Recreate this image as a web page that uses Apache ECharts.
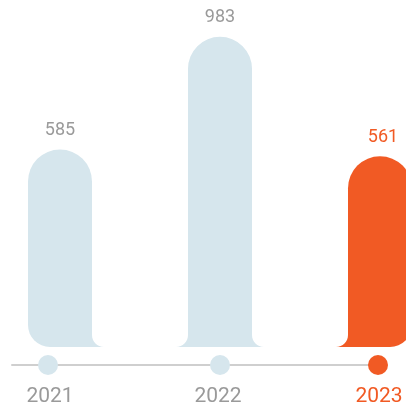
<!DOCTYPE html>
<html>
<head>
<meta charset="utf-8">
<script src="https://cdn.jsdelivr.net/npm/echarts@6/dist/echarts.min.js"></script>
<style>html,body{margin:0;padding:0;background:#fff}#c{width:406px;height:405px}</style>
</head>
<body>
<div id="c"></div>
<script>
const categories = ['2021', '2022', '2023'];
const values = [585, 983, 561];
const highlightIndex = 2;

const BLUE = '#d6e6ed';
const ORANGE = '#f15a24';
const GRAY_TEXT = '#9a9a9a';
const FONT = 'Roboto, "Liberation Sans", sans-serif';

const chart = echarts.init(document.getElementById('c'));
const n = values.length;
const K = 0.5523;

function colorOf(i) { return i === highlightIndex ? ORANGE : BLUE; }

function renderBar(params, api) {
  const i = params.dataIndex;
  const cat = api.value(0);
  const v = api.value(1);
  const p0 = api.coord([cat, 0]);
  const p1 = api.coord([cat, v]);
  const cx = p0[0], b = p0[1], top = p1[1];
  const w = 64, r = w / 2, f = 12, R = 22;
  const l = cx - r, rt = cx + r;
  const col = colorOf(i);
  const children = [{
    type: 'rect',
    shape: { x: l, y: top - r, width: w, height: b - (top - r), r: [r, r, i === n - 1 ? R : 0, i === 0 ? R : 0] },
    style: { fill: col }
  }];
  if (i > 0) {
    children.push({
      type: 'path',
      shape: { pathData: `M ${l} ${b - f} L ${l} ${b} L ${l - f} ${b} C ${l - f + K * f} ${b} ${l} ${b - f + K * f} ${l} ${b - f} Z` },
      style: { fill: col }
    });
  }
  if (i < n - 1) {
    children.push({
      type: 'path',
      shape: { pathData: `M ${rt} ${b - f} L ${rt} ${b} L ${rt + f} ${b} C ${rt + f - K * f} ${b} ${rt} ${b - f + K * f} ${rt} ${b - f} Z` },
      style: { fill: col }
    });
  }
  children.push({
    type: 'text',
    style: {
      text: String(v), x: cx + (i === highlightIndex ? 3 : 0), y: top - r - 10,
      align: 'center', verticalAlign: 'bottom',
      fill: i === highlightIndex ? ORANGE : GRAY_TEXT,
      font: '18px ' + FONT
    }
  });
  return { type: 'group', children };
}

const dotOffsets = [-12, 0, -2];
const labelNudge = [2, -2, 1];

chart.setOption({
  animation: false,
  grid: [
    { left: 60, right: 26, top: 64, bottom: 58 },
    { left: 60, right: 26, top: 355, bottom: 30 },
    { left: 12, right: 28, top: 355, bottom: 40 }
  ],
  xAxis: [
    { type: 'category', data: categories, gridIndex: 0, boundaryGap: false, show: false },
    { type: 'category', data: categories, gridIndex: 1, boundaryGap: false, show: false },
    { type: 'value', gridIndex: 2, min: 0, max: 1, axisLine: { show: true, lineStyle: { color: '#cfcfcf', width: 2 } },
      axisTick: { show: false }, axisLabel: { show: false }, splitLine: { show: false } }
  ],
  yAxis: [
    { type: 'value', gridIndex: 0, min: 0, max: 1000, show: false },
    { type: 'value', gridIndex: 1, min: -1, max: 1, show: false },
    { type: 'value', gridIndex: 2, min: 0, max: 1, show: false }
  ],
  series: [
    {
      type: 'custom',
      xAxisIndex: 0, yAxisIndex: 0,
      renderItem: renderBar,
      data: values.map((v, i) => [i, v]),
      z: 2
    },
    {
      type: 'scatter',
      xAxisIndex: 1, yAxisIndex: 1,
      symbolSize: 20,
      z: 5,
      data: values.map((v, i) => ({
        value: [i, 0],
        symbolOffset: [dotOffsets[i], 0],
        itemStyle: { color: colorOf(i), opacity: 1 },
        label: {
          show: true, position: 'bottom', distance: 11,
          offset: [labelNudge[i], 0],
          formatter: categories[i],
          color: i === highlightIndex ? ORANGE : GRAY_TEXT,
          fontSize: 21, fontFamily: FONT
        }
      }))
    }
  ]
});
</script>
</body>
</html>
